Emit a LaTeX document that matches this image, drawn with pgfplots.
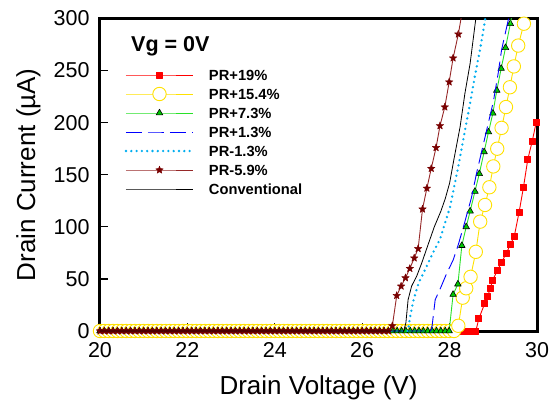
\documentclass[border=0pt]{standalone}
\usepackage{fontspec}
\setmainfont{Liberation Sans}
\usepackage{pgfplots}
\pgfplotsset{compat=1.18}
\usetikzlibrary{plotmarks}
\definecolor{yelc}{RGB}{255,225,0}
\definecolor{grnline}{RGB}{40,225,40}
\definecolor{grnfill}{RGB}{0,200,0}
\definecolor{brline}{RGB}{150,40,40}
\definecolor{brfill}{RGB}{120,0,0}
\pgfdeclareplotmark{fstar}{%
  \pgfpathmoveto{\pgfpointpolar{90}{\pgfplotmarksize}}%
  \pgfpathlineto{\pgfpointpolar{126}{0.42\pgfplotmarksize}}%
  \pgfpathlineto{\pgfpointpolar{162}{\pgfplotmarksize}}%
  \pgfpathlineto{\pgfpointpolar{198}{0.42\pgfplotmarksize}}%
  \pgfpathlineto{\pgfpointpolar{234}{\pgfplotmarksize}}%
  \pgfpathlineto{\pgfpointpolar{270}{0.42\pgfplotmarksize}}%
  \pgfpathlineto{\pgfpointpolar{306}{\pgfplotmarksize}}%
  \pgfpathlineto{\pgfpointpolar{342}{0.42\pgfplotmarksize}}%
  \pgfpathlineto{\pgfpointpolar{18}{\pgfplotmarksize}}%
  \pgfpathlineto{\pgfpointpolar{54}{0.42\pgfplotmarksize}}%
  \pgfpathclose
  \pgfusepathqfillstroke}
\begin{document}
\begin{tikzpicture}
\begin{axis}[
  scale only axis, width=437bp, height=312.5bp,
  xmin=20, xmax=30, ymin=0, ymax=300,
  xtick={20,22,...,30}, ytick={0,50,...,300},
  xtick pos=left, ytick pos=left, tick align=inside,
  major tick length=8bp,
  tick style={line width=1.2bp, black},
  axis line style={line width=3bp},
  clip mode=individual,
  /pgf/number format/assume math mode=true,
  tick label style={font=\fontsize{21.5bp}{24bp}\selectfont},
  xticklabel style={yshift=-8bp},
  yticklabel style={xshift=-7bp},
  label style={font=\fontsize{26bp}{30bp}\selectfont},
  xlabel={Drain Voltage (V)},
  ylabel={Drain Current (µA)},
  xlabel style={at={(axis description cs:0.5,0)}, anchor=base, yshift=-63bp, inner sep=0pt},
  ylabel style={at={(axis description cs:-0.1487,0.5)}, anchor=base, inner sep=0pt},
  legend cell align=left,
  legend style={at={(rel axis cs:0.0595,0.836)}, anchor=north west, draw=none, fill=none,
    inner sep=0pt, outer sep=0pt, row sep=8.5bp, column sep=16bp,
    font=\fontsize{14.7bp}{16bp}\selectfont\bfseries,
    nodes={inner sep=0pt, text height=10.5bp, text depth=0pt}},
  legend image code/.code={%
    \pgfinterruptboundingbox
    \draw[mark repeat=2,mark phase=2,#1] plot coordinates {(0bp,0bp) (33.5bp,0bp) (67bp,0bp)};
    \endpgfinterruptboundingbox
    \pgfpathrectangle{\pgfpoint{0bp}{-4bp}}{\pgfpoint{67bp}{8bp}}\pgfusepath{}%
  },
  every axis plot/.append style={line join=round},
]
% PR+19%
\addplot[color=red, line width=0.9bp, mark=square*, mark size=3bp, mark options={solid, fill=red, draw=red}] coordinates {
(20.0,0)(20.1,0)(20.2,0)(20.3,0)(20.4,0)(20.5,0)(20.6,0)(20.7,0)(20.8,0)(20.9,0)
(21.0,0)(21.1,0)(21.2,0)(21.3,0)(21.4,0)(21.5,0)(21.6,0)(21.7,0)(21.8,0)(21.9,0)
(22.0,0)(22.1,0)(22.2,0)(22.3,0)(22.4,0)(22.5,0)(22.6,0)(22.7,0)(22.8,0)(22.9,0)
(23.0,0)(23.1,0)(23.2,0)(23.3,0)(23.4,0)(23.5,0)(23.6,0)(23.7,0)(23.8,0)(23.9,0)
(24.0,0)(24.1,0)(24.2,0)(24.3,0)(24.4,0)(24.5,0)(24.6,0)(24.7,0)(24.8,0)(24.9,0)
(25.0,0)(25.1,0)(25.2,0)(25.3,0)(25.4,0)(25.5,0)(25.6,0)(25.7,0)(25.8,0)(25.9,0)
(26.0,0)(26.1,0)(26.2,0)(26.3,0)(26.4,0)(26.5,0)(26.6,0)(26.7,0)(26.8,0)(26.9,0)
(27.0,0)(27.1,0)(27.2,0)(27.3,0)(27.4,0)(27.5,0)(27.6,0)(27.7,0)(27.8,0)(27.9,0)
(28.0,0)(28.1,0)(28.2,0)(28.3,0)(28.4,0)(28.5,0)(28.6,0)
(28.67,12)(28.8,26)(28.87,33)(28.93,41)(28.99,49)(29.09,58)(29.19,66)(29.29,74)
(29.39,83)(29.48,91)(29.59,114)(29.69,138)(29.79,165)(29.89,182)(29.98,200)
};
\addlegendentry{PR+19\%}
% PR+15.4%
\addplot[color=yelc, line width=0.9bp, mark=*, mark size=6.7bp, mark options={solid, fill=white, draw=yelc, line width=0.9bp}] coordinates {
(20.0,0)(20.1,0)(20.2,0)(20.3,0)(20.4,0)(20.5,0)(20.6,0)(20.7,0)(20.8,0)(20.9,0)
(21.0,0)(21.1,0)(21.2,0)(21.3,0)(21.4,0)(21.5,0)(21.6,0)(21.7,0)(21.8,0)(21.9,0)
(22.0,0)(22.1,0)(22.2,0)(22.3,0)(22.4,0)(22.5,0)(22.6,0)(22.7,0)(22.8,0)(22.9,0)
(23.0,0)(23.1,0)(23.2,0)(23.3,0)(23.4,0)(23.5,0)(23.6,0)(23.7,0)(23.8,0)(23.9,0)
(24.0,0)(24.1,0)(24.2,0)(24.3,0)(24.4,0)(24.5,0)(24.6,0)(24.7,0)(24.8,0)(24.9,0)
(25.0,0)(25.1,0)(25.2,0)(25.3,0)(25.4,0)(25.5,0)(25.6,0)(25.7,0)(25.8,0)(25.9,0)
(26.0,0)(26.1,0)(26.2,0)(26.3,0)(26.4,0)(26.5,0)(26.6,0)(26.7,0)(26.8,0)(26.9,0)
(27.0,0)(27.1,0)(27.2,0)(27.3,0)(27.4,0)(27.5,0)(27.6,0)(27.7,0)(27.8,0)(27.9,0)
(28.0,0)(28.1,0)
(28.2,5)(28.3,32)(28.38,41)(28.48,52)(28.6,76)(28.7,105)(28.81,121)(28.91,138)
(29.0,158)(29.09,175)(29.19,195)(29.29,215)(29.38,234)(29.47,254)(29.57,274)(29.7,295)
};
\addlegendentry{PR+15.4\%}
% PR+7.3%
\addplot[color=grnline, line width=0.9bp, mark=triangle*, mark size=3.8bp, mark options={solid, fill=grnfill, draw=black, line width=0.6bp}] coordinates {
(20.0,0)(20.1,0)(20.2,0)(20.3,0)(20.4,0)(20.5,0)(20.6,0)(20.7,0)(20.8,0)(20.9,0)
(21.0,0)(21.1,0)(21.2,0)(21.3,0)(21.4,0)(21.5,0)(21.6,0)(21.7,0)(21.8,0)(21.9,0)
(22.0,0)(22.1,0)(22.2,0)(22.3,0)(22.4,0)(22.5,0)(22.6,0)(22.7,0)(22.8,0)(22.9,0)
(23.0,0)(23.1,0)(23.2,0)(23.3,0)(23.4,0)(23.5,0)(23.6,0)(23.7,0)(23.8,0)(23.9,0)
(24.0,0)(24.1,0)(24.2,0)(24.3,0)(24.4,0)(24.5,0)(24.6,0)(24.7,0)(24.8,0)(24.9,0)
(25.0,0)(25.1,0)(25.2,0)(25.3,0)(25.4,0)(25.5,0)(25.6,0)(25.7,0)(25.8,0)(25.9,0)
(26.0,0)(26.1,0)(26.2,0)(26.3,0)(26.4,0)(26.5,0)(26.6,0)(26.7,0)(26.8,0)(26.9,0)
(27.0,0)(27.1,0)(27.2,0)(27.3,0)(27.4,0)(27.5,0)(27.6,0)(27.7,0)(27.8,0)(27.9,0)
(27.99,0)(28.08,35)(28.19,45)(28.28,82)(28.38,100)(28.47,115)(28.58,134)(28.68,151)
(28.79,172)(28.89,191)(28.99,209)(29.08,231)(29.18,252)(29.28,272)(29.39,295)
};
\addlegendentry{PR+7.3\%}
% PR+1.3%
\addplot[color=blue, line width=0.9bp, dash pattern=on 16bp off 6bp, mark=none] coordinates {
(20,0)(27.57,0)(27.6,5)(27.67,30)(27.8,42)(27.93,55)(28.08,68)(28.2,83)(28.35,105)
(28.5,128)(28.62,152)(28.81,186)(29.0,220)(29.11,247)(29.19,270)(29.35,300)
};
\addlegendentry{PR+1.3\%}
% PR-1.3%
\addplot[color=cyan, line width=2.6bp, dash pattern=on 0bp off 5.3bp, line cap=round, mark=none] coordinates {
(20,0)(27.05,0)(27.09,12)(27.17,29)(27.29,46)(27.44,59)(27.63,76)(27.78,88)(28.01,119)
(28.2,158)(28.39,201)(28.47,219)(28.58,245)(28.7,271)(28.81,298)(28.82,302)
};
\addlegendentry{PR-1.3\%}
% PR-5.9%
\addplot[color=brline, line width=0.9bp, mark=fstar, mark size=4bp, mark options={solid, fill=brfill, draw=brfill, line width=0.4bp}] coordinates {
(20.0,0)(20.1,0)(20.2,0)(20.3,0)(20.4,0)(20.5,0)(20.6,0)(20.7,0)(20.8,0)(20.9,0)
(21.0,0)(21.1,0)(21.2,0)(21.3,0)(21.4,0)(21.5,0)(21.6,0)(21.7,0)(21.8,0)(21.9,0)
(22.0,0)(22.1,0)(22.2,0)(22.3,0)(22.4,0)(22.5,0)(22.6,0)(22.7,0)(22.8,0)(22.9,0)
(23.0,0)(23.1,0)(23.2,0)(23.3,0)(23.4,0)(23.5,0)(23.6,0)(23.7,0)(23.8,0)(23.9,0)
(24.0,0)(24.1,0)(24.2,0)(24.3,0)(24.4,0)(24.5,0)(24.6,0)(24.7,0)(24.8,0)(24.9,0)
(25.0,0)(25.1,0)(25.2,0)(25.3,0)(25.4,0)(25.5,0)(25.6,0)(25.7,0)(25.8,0)(25.9,0)
(26.0,0)(26.1,0)(26.2,0)(26.3,0)(26.4,0)(26.5,0)(26.6,0)
(26.69,5)(26.79,34)(26.89,43)(26.99,51)(27.09,60)(27.19,70)(27.28,79)(27.38,117)
(27.48,137)(27.58,156)(27.69,176)(27.78,197)(27.89,215)(27.99,239)(28.08,262)(28.2,285)
};
\addlegendentry{PR-5.9\%}
% Conventional
\addplot[color=black, line width=0.8bp, mark=none] coordinates {
(20,0)(26.95,0)(27.0,8)(27.05,30)(27.13,43)(27.25,53)(27.36,65)(27.5,82)(27.65,100)
(27.8,115)(27.9,127)(28.0,142)(28.1,165)(28.24,196)(28.35,228)(28.47,257)(28.6,300)
};
\addlegendentry{Conventional}
% line continuations beyond the top edge
\addplot[color=brline, line width=0.9bp, mark=none, forget plot] coordinates {(28.2,285)(28.27,302)};
\addplot[color=grnline, line width=0.9bp, mark=none, forget plot] coordinates {(29.39,295)(29.42,302)};
\node[anchor=base west, inner sep=0pt, font=\fontsize{21.5bp}{24bp}\selectfont\bfseries] at (rel axis cs:0.071,0.894) {Vg = 0V};
\end{axis}
\pgfresetboundingbox
\path[use as bounding box] (-100bp,-77bp) rectangle (455bp,331bp);
\end{tikzpicture}
\end{document}
